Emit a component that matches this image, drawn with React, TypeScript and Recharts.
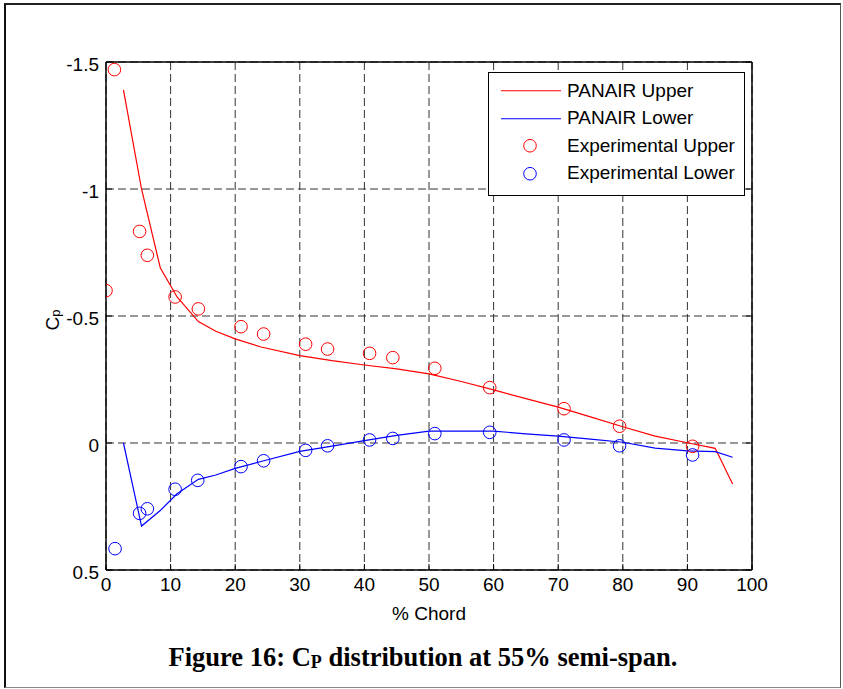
import React from 'react';
import { ComposedChart, Line, Scatter, XAxis, YAxis, CartesianGrid, Legend } from 'recharts';

// PANAIR predictions (upper and lower surfaces share the chord stations)
const panairChord = [2.7, 5.5, 8.4, 11, 14.3, 17, 20, 24, 30, 35, 40, 45, 50, 55, 60, 65, 70, 75, 80, 85, 90, 94.3, 97];
const panairUpperCp = [-1.39, -1.0, -0.69, -0.575, -0.478, -0.44, -0.41, -0.378, -0.344, -0.324, -0.307, -0.292, -0.272, -0.242, -0.209, -0.175, -0.141, -0.103, -0.064, -0.027, -0.001, 0.021, 0.161];
const panairLowerCp = [0, 0.327, 0.266, 0.2, 0.143, 0.126, 0.1, 0.073, 0.033, 0.012, -0.009, -0.03, -0.047, -0.047, -0.047, -0.036, -0.027, -0.015, -0.003, 0.02, 0.031, 0.034, 0.056];

// wind tunnel taps
const expUpperChord = [0, 1.3, 5.2, 6.4, 10.7, 14.3, 20.9, 24.4, 30.9, 34.3, 40.8, 44.4, 50.9, 59.4, 70.9, 79.5, 90.8];
const expUpperCp = [-0.6, -1.47, -0.833, -0.739, -0.575, -0.528, -0.458, -0.429, -0.389, -0.37, -0.353, -0.336, -0.294, -0.218, -0.135, -0.066, 0.013];
const expLowerChord = [1.4, 5.2, 6.4, 10.7, 14.2, 20.9, 24.4, 30.9, 34.3, 40.8, 44.4, 50.9, 59.4, 70.9, 79.5, 90.8];
const expLowerCp = [0.416, 0.277, 0.259, 0.182, 0.147, 0.093, 0.07, 0.029, 0.011, -0.012, -0.018, -0.037, -0.042, -0.012, 0.011, 0.047];

const chordTicks = [0, 10, 20, 30, 40, 50, 60, 70, 80, 90, 100];
const cpTicks = [-1.5, -1, -0.5, 0, 0.5];

const legendItems = [
    { name: 'PANAIR Upper', color: '#ff0000', kind: 'line' },
    { name: 'PANAIR Lower', color: '#0000ff', kind: 'line' },
    { name: 'Experimental Upper', color: '#ff0000', kind: 'circle' },
    { name: 'Experimental Lower', color: '#0000ff', kind: 'circle' },
];

const toPoints = (xs: number[], ys: number[]) => xs.map((x, i) => ({ chord: x, cp: ys[i] }));

const FONT = '"Liberation Sans", Arial, Helvetica, sans-serif';
const FS = 19;
const TICK_LEN = 6;

const BottomTick = (props: any) => {
    const { x, y, payload } = props;
    return (
        <g>
            <line x1={x} y1={y} x2={x} y2={y - TICK_LEN} stroke="#000" />
            <text x={x} y={y + 14} textAnchor="middle" dominantBaseline="central" fontFamily={FONT} fontSize={FS} fill="#000">{payload.value}</text>
        </g>
    );
};

const LeftTick = (props: any) => {
    const { x, y, payload } = props;
    return (
        <g>
            <line x1={x} y1={y} x2={x + TICK_LEN} y2={y} stroke="#000" />
            <text x={x - 7} y={y + 2} textAnchor="end" dominantBaseline="central" fontFamily={FONT} fontSize={FS} fill="#000">{payload.value}</text>
        </g>
    );
};

const TopTick = (props: any) => <line x1={props.x} y1={props.y} x2={props.x} y2={props.y + TICK_LEN} stroke="#000" />;
const RightTick = (props: any) => <line x1={props.x} y1={props.y} x2={props.x - TICK_LEN} y2={props.y} stroke="#000" />;

const circleShape = (color: string) => (p: any) => (
    <circle cx={p.cx} cy={p.cy} r={6.3} fill="none" stroke={color} strokeWidth={1} />
);

const renderLegend = () => (
    <div style={{ border: '1px solid #000', background: '#fff', padding: '4px 0 8px 0', boxSizing: 'border-box', width: 257, fontFamily: FONT, fontSize: FS }}>
        {legendItems.map(item => (
            <div key={item.name} style={{ height: 27.5, display: 'flex', alignItems: 'center', position: 'relative' }}>
                <svg width={78} height={27.5} style={{ flex: 'none' }}>
                    {item.kind === 'line'
                        ? <line x1={12} y1={13.75} x2={72} y2={13.75} stroke={item.color} strokeWidth={1.2} />
                        : <circle cx={41} cy={13.75} r={6.3} fill="none" stroke={item.color} strokeWidth={1} />}
                </svg>
                <span style={{ whiteSpace: 'nowrap', color: '#000' }}>{item.name}</span>
            </div>
        ))}
    </div>
);

export default function App() {
    const upperLine = toPoints(panairChord, panairUpperCp);
    const lowerLine = toPoints(panairChord, panairLowerCp);
    const upperExp = toPoints(expUpperChord, expUpperCp);
    const lowerExp = toPoints(expLowerChord, expLowerCp);

    return (
        <div style={{ position: 'relative', width: 843, height: 689, background: '#fff' }}>
            <style>{'body{margin:0;background:#fff}'}</style>
            {/* page frame */}
            <div style={{ position: 'absolute', left: 4, top: 3, width: 837, height: 685, boxSizing: 'border-box', borderLeft: '2px solid #111', borderTop: '2px solid #222', borderRight: '1px solid #555', borderBottom: '1px solid #888' }} />

            <div style={{ position: 'absolute', left: 0, top: 0 }}>
                <ComposedChart width={843} height={689} margin={{ top: 61, right: 90, bottom: 59, left: 46 }}>
                    <CartesianGrid xAxisId="x" yAxisId="y" stroke="#333" strokeDasharray="8 4" strokeWidth={1} />
                    <XAxis
                        xAxisId="x" dataKey="chord" type="number" domain={[0, 100]} ticks={chordTicks} allowDataOverflow
                        height={60} axisLine={{ stroke: '#000', strokeWidth: 1.5 }} tickLine={false} tickSize={0} tickMargin={0}
                        tick={<BottomTick />} interval={0}
                        label={{
                            content: (p: any) => (
                                <text x={p.viewBox.x + p.viewBox.width / 2} y={p.viewBox.y + 43} textAnchor="middle" dominantBaseline="central" fontFamily={FONT} fontSize={FS} fill="#000">% Chord</text>
                            ),
                        }}
                    />
                    <XAxis
                        xAxisId="top" orientation="top" type="number" domain={[0, 100]} ticks={chordTicks} allowDataOverflow
                        height={1} axisLine={{ stroke: '#000', strokeWidth: 1.5 }} tickLine={false} tickSize={0} tickMargin={0}
                        tick={<TopTick />} interval={0}
                    />
                    <YAxis
                        yAxisId="y" dataKey="cp" type="number" domain={[-1.5, 0.5]} ticks={cpTicks} reversed allowDataOverflow
                        width={60} axisLine={{ stroke: '#000', strokeWidth: 1.5 }} tickLine={false} tickSize={0} tickMargin={0}
                        tick={<LeftTick />} interval={0}
                        label={{
                            content: (p: any) => {
                                const cx = p.viewBox.x + 6;
                                const cy = p.viewBox.y + p.viewBox.height / 2 + 4;
                                return (
                                    <text x={cx} y={cy} transform={`rotate(-90 ${cx} ${cy})`} textAnchor="middle" dominantBaseline="central" fontFamily={FONT} fontSize={FS} fill="#000">
                                        C<tspan fontSize={13} dy={3}>p</tspan>
                                    </text>
                                );
                            },
                        }}
                    />
                    <YAxis
                        yAxisId="right" orientation="right" type="number" domain={[-1.5, 0.5]} ticks={cpTicks} reversed allowDataOverflow
                        width={1} axisLine={{ stroke: '#000', strokeWidth: 1.5 }} tickLine={false} tickSize={0} tickMargin={0}
                        tick={<RightTick />} interval={0}
                    />
                    <Legend
                        layout="horizontal" verticalAlign="middle" align="center"
                        content={renderLegend}
                        wrapperStyle={{ left: 488, top: 72, width: 257 }}
                    />
                    <Line xAxisId="x" yAxisId="y" name="PANAIR Upper" data={upperLine} dataKey="cp" type="linear" stroke="#ff0000" strokeWidth={1.2} dot={false} isAnimationActive={false} />
                    <Line xAxisId="x" yAxisId="y" name="PANAIR Lower" data={lowerLine} dataKey="cp" type="linear" stroke="#0000ff" strokeWidth={1.2} dot={false} isAnimationActive={false} />
                    <Scatter xAxisId="x" yAxisId="y" name="Experimental Upper" data={upperExp} dataKey="cp" shape={circleShape('#ff0000')} isAnimationActive={false} />
                    <Scatter xAxisId="x" yAxisId="y" name="Experimental Lower" data={lowerExp} dataKey="cp" shape={circleShape('#0000ff')} isAnimationActive={false} />
                </ComposedChart>
            </div>

            <div style={{ position: 'absolute', left: 0, width: 846, top: 640, textAlign: 'center', fontFamily: '"Liberation Serif", "Times New Roman", serif', fontWeight: 'bold', fontSize: 26.5, lineHeight: '34px', color: '#000' }}>
                Figure 16: C<span style={{ fontSize: 18, verticalAlign: '-2px' }}>P</span> distribution at 55% semi-span.
            </div>
        </div>
    );
}
